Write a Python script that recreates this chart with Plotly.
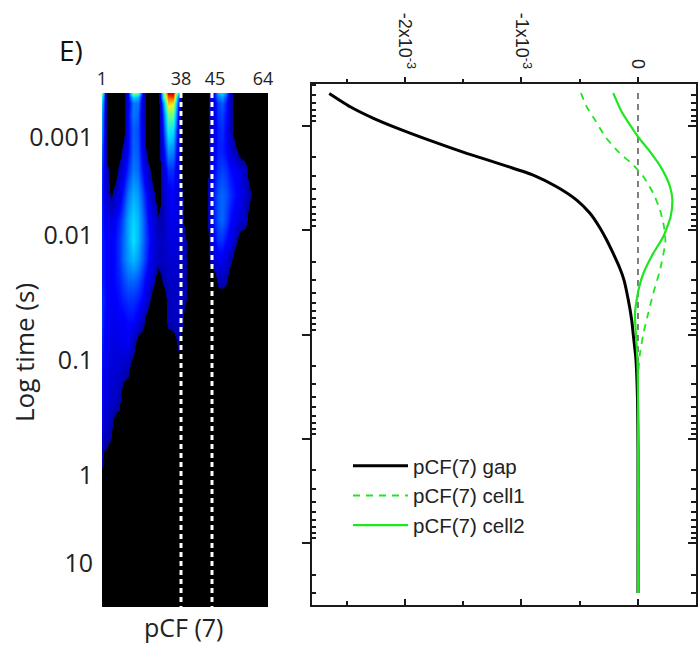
import math
import plotly.graph_objects as go

# ---------- left panel: intensity map ----------
pcf_col_pos = [0,2,5,9,13,17,21,26,31,36,41,46,51,56,61,66,71,76,80,84,88,104,108,112,116,120,124,128,133,138,143,148,153,166]
time_row_pos = [0,4,10,22,37,57,77,102,127,147,167,187,207,227,252,277,307,337,377,514]
Z0 = [0]*13
pcf_map = [
 [65,40,0,0,0,0,0,25,70,65,20,0,0, 0,60,98,98,55,0,0,0, 0,15,25,45,50,40,15,0,0,0,0,0,0],
 [55,35,0,0,0,0,0,25,50,45,18,0,0, 0,55,90,92,40,0,0,0, 0,15,25,38,42,32,15,0,0,0,0,0,0],
 [48,30,0,0,0,0,0,22,38,38,15,0,0, 0,40,80,78,30,0,0,0, 0,15,22,32,35,28,14,0,0,0,0,0,0],
 [42,28,0,0,0,0,0,25,38,35,15,0,0, 0,32,65,65,25,0,0,0, 0,15,22,30,32,26,14,0,0,0,0,0,0],
 [40,26,0,0,0,0,0,25,35,33,18,0,0, 0,28,55,52,22,0,0,0, 0,14,22,28,30,25,14,0,0,0,0,0,0],
 [34,24,0,0,0,0,12,25,36,34,20,0,0, 0,22,42,40,20,0,0,0, 0,15,22,28,28,25,18,12,0,0,0,0,0],
 [30,22,12,0,0,12,20,30,38,36,25,14,0, 0,18,30,30,18,0,0,0, 0,15,25,30,32,30,26,24,20,14,0,0,0],
 [28,22,15,6,14,20,28,38,45,42,32,22,12, 0,14,22,24,16,10,0,0, 0,18,28,34,36,34,30,26,22,16,10,0,0],
 [28,24,22,20,24,28,34,44,50,46,36,26,20, 10,12,20,22,18,14,0,0, 0,18,28,34,36,32,26,22,18,14,0,0,0],
 [28,26,24,24,26,30,36,44,52,46,36,28,20, 14,14,18,20,18,14,8,0, 0,14,24,30,30,26,22,14,0,0,0,0,0],
 [28,26,24,24,26,30,36,42,46,42,34,26,18, 14,14,16,18,16,14,10,0, 0,10,18,22,22,18,12,0,0,0,0,0,0],
 [28,26,24,24,26,28,32,36,36,34,28,22,14, 0,10,14,15,14,12,8,0, 0,0,0,12,14,10,0,0,0,0,0,0,0],
 [30,28,24,24,24,26,28,30,30,28,24,14,0, 0,0,12,14,14,12,8,0]+Z0,
 [30,26,24,22,22,24,24,26,26,22,12,0,0, 0,0,12,14,14,12,0,0]+Z0,
 [28,24,22,20,20,20,22,22,14,0,0,0,0, 0,0,0,0,10,0,0,0]+Z0,
 [26,22,20,18,18,16,14,10,0,0,0,0,0, 0,0,0,0,0,0,0,0]+Z0,
 [24,20,18,16,14,12,0,0,0,0,0,0,0, 0,0,0,0,0,0,0,0]+Z0,
 [20,16,14,10,0,0,0,0,0,0,0,0,0, 0,0,0,0,0,0,0,0]+Z0,
 [7,0,0,0,0,0,0,0,0,0,0,0,0, 0,0,0,0,0,0,0,0]+Z0,
 [0]*34,
]
map_xtick_pos = [0,79,113,161]
map_xtick_text = ["1","38","45","64"]
map_ytick_pos = [44,142,267,382,470]
map_ytick_text = ["0.001","0.01","0.1","1","10"]
dashed_cols = [79,110]

# ---------- right panel: curves (log10 seconds, value in 1e-3) ----------
gap_logt = [-3.313,-3.185,-3.074,-2.968,-2.850,-2.738,-2.616,-2.530,-2.418,-2.290,-2.163,-2.022,-1.907,-1.800,-1.648,-1.523,-1.332,-1.140,-0.996,-0.756,-0.373,0.106,0.586,1.478]
gap_val = [-2.65,-2.47,-2.27,-2.04,-1.757,-1.47,-1.127,-0.899,-0.698,-0.526,-0.412,-0.326,-0.269,-0.222,-0.16,-0.12,-0.083,-0.054,-0.04,-0.017,-0.004,0,0,0]
cell2_logt = [-3.316,-3.137,-2.962,-2.897,-2.754,-2.594,-2.418,-2.290,-2.130,-1.939,-1.779,-1.588,-1.459,-1.332,-1.204,-1.044,-0.788,-0.373,1.478]
cell2_val = [-0.212,-0.14,-0.04,0,0.103,0.203,0.275,0.295,0.28,0.217,0.131,0.047,0.011,-0.011,-0.026,-0.02,-0.006,0,0]
cell1_logt = [-3.316,-3.185,-3.058,-2.897,-2.754,-2.626,-2.514,-2.355,-2.195,-2.035,-1.891,-1.619,-1.396,-1.204,-1.012,-0.820,-0.632,-0.344,1.478]
cell1_val = [-0.49,-0.44,-0.369,-0.28,-0.17,-0.04,0.047,0.131,0.189,0.223,0.235,0.189,0.131,0.088,0.047,0.017,0.003,0,0]

to_t = lambda a: [10**v for v in a]
to_v = lambda a: [v*1e-3 for v in a]

W, H = 700, 645
px = lambda a: a/W
py = lambda b: 1-b/H
dx = lambda a, b: [px(a), px(b)]
dy = lambda top, bot: [py(bot), py(top)]

jet = [[0,"#000000"],[0.079,"#000000"],[0.08,"#0000a0"],[0.25,"#0000ff"],[0.38,"#0078ff"],[0.52,"#00e6ff"],
       [0.64,"#60ff90"],[0.76,"#f0f020"],[0.87,"#ff8000"],[0.95,"#f01000"],[1,"#b00000"]]

# the first column and row are repeated just outside the axis range so the smoothed image fills it
hm_x = [-12] + pcf_col_pos
hm_y = [-12] + time_row_pos
hm_z = [[row[0]] + row for row in [pcf_map[0]] + pcf_map]

fig = go.Figure()
fig.add_trace(go.Heatmap(x=hm_x, y=hm_y, z=hm_z, zmin=0, zmax=100, zsmooth="best",
                         colorscale=jet, showscale=False, xaxis="x", yaxis="y", hoverinfo="skip"))
for c in dashed_cols:
    fig.add_trace(go.Scatter(x=[c,c], y=[0,514], mode="lines", xaxis="x", yaxis="y", showlegend=False,
                             line=dict(color="white", width=3, dash="5px,4px"), hoverinfo="skip"))

GREEN = "#1fe61f"
fig.add_trace(go.Scatter(x=[0,0], y=[10**-3.316,10**1.478], mode="lines", xaxis="x2", yaxis="y2", showlegend=False,
                         line=dict(color="#555555", width=1.5, dash="6px,5px"), hoverinfo="skip"))
fig.add_trace(go.Scatter(x=to_v(gap_val), y=to_t(gap_logt), mode="lines", name="pCF(7) gap", xaxis="x3", yaxis="y3",
                         legendrank=1, line=dict(color="#000000", width=3, shape="spline", smoothing=0.6)))
fig.add_trace(go.Scatter(x=to_v(cell2_val), y=to_t(cell2_logt), mode="lines", name="pCF(7) cell2", xaxis="x3", yaxis="y3",
                         legendrank=3, line=dict(color=GREEN, width=2.2, shape="spline", smoothing=0.6)))
fig.add_trace(go.Scatter(x=to_v(cell1_val), y=to_t(cell1_logt), mode="lines", name="pCF(7) cell1", xaxis="x3", yaxis="y3",
                         legendrank=2, line=dict(color=GREEN, width=1.8, dash="7px,6px", shape="spline", smoothing=0.6)))

xr = [-2.798e-3, 0.498e-3]
yr = [1.593, -3.403]
x_major = [-2e-3,-1e-3,0]
x_text = ["-2x10<sup>-3</sup>","-1x10<sup>-3</sup>","0"]
x_minor = [-2.5e-3,-1.5e-3,-0.5e-3]
y_major = [1e-3,1e-2,1e-1,1,10]
y_minor = [m*10.0**d for d in range(-4,2) for m in range(2,10) if -3.403 < d+math.log10(m) < 1.593]
AX = "#1a1a1a"
sans = "Liberation Sans"
op = "Open Sans"

fig.update_layout(
    width=W, height=H, margin=dict(l=0,r=0,t=0,b=0), paper_bgcolor="white", plot_bgcolor="white",
    font=dict(family=sans, color="#1a1a1a"),
    xaxis=dict(domain=dx(102,268), range=[0,166], side="top", anchor="y", showgrid=False, zeroline=False, automargin=False,
               tickmode="array", tickvals=map_xtick_pos, ticktext=map_xtick_text, ticks="", ticklabelstandoff=3,
               tickfont=dict(family=op, size=18, color="#222")),
    yaxis=dict(domain=dy(93,607), range=[514,0], anchor="x", showgrid=False, zeroline=False, automargin=False,
               tickmode="array", tickvals=map_ytick_pos, ticktext=map_ytick_text, ticks="", ticklabelstandoff=8,
               tickfont=dict(family=op, size=25, color="#222")),
    xaxis2=dict(domain=dx(312,696), range=xr, side="bottom", anchor="y2", showgrid=False, zeroline=False, showline=True, automargin=False,
                linecolor=AX, linewidth=1.5, tickmode="array", tickvals=x_major, ticktext=["","",""], ticks="inside",
                ticklen=6, tickwidth=1.5, tickcolor=AX,
                minor=dict(tickmode="array", tickvals=x_minor, ticks="inside", ticklen=4, tickwidth=1.5, tickcolor=AX)),
    yaxis2=dict(domain=dy(84,605), type="log", range=yr, autorange=False, side="right", anchor="x2", showgrid=False, automargin=False,
                zeroline=False, showline=True, linecolor=AX, linewidth=1.5, tickmode="array", tickvals=y_major,
                ticktext=[""]*5, ticks="inside", ticklen=8, tickwidth=1.5, tickcolor=AX,
                minor=dict(tickmode="array", tickvals=y_minor, ticks="inside", ticklen=5, tickwidth=1.5, tickcolor=AX)),
    xaxis3=dict(domain=dx(312,696), range=xr, side="top", anchor="y3", overlaying="x2", showgrid=False, zeroline=False, automargin=False,
                showline=True, linecolor=AX, linewidth=1.5, tickmode="array", tickvals=x_major, ticktext=x_text,
                tickangle=90, ticks="outside", ticklen=5, tickwidth=1.5, tickcolor=AX, ticklabelstandoff=2,
                tickfont=dict(family=sans, size=18, color="#222"),
                minor=dict(tickmode="array", tickvals=x_minor, ticks="outside", ticklen=3, tickwidth=1.5, tickcolor=AX)),
    yaxis3=dict(domain=dy(84,605), type="log", range=yr, autorange=False, side="left", anchor="x3", overlaying="y2", showgrid=False, automargin=False,
                zeroline=False, showline=True, linecolor=AX, linewidth=1.5, tickmode="array", tickvals=y_major,
                ticktext=[""]*5, ticks="outside", ticklen=8, tickwidth=1.5, tickcolor=AX,
                minor=dict(tickmode="array", tickvals=y_minor, ticks="inside", ticklen=4, tickwidth=1.5, tickcolor=AX)),
    legend=dict(x=px(348), y=py(446), xanchor="left", yanchor="top", bgcolor="rgba(0,0,0,0)", itemwidth=55,
                font=dict(family=sans, size=20.5, color="#222"), tracegroupgap=0, traceorder="normal"),
    annotations=[
        dict(text="E)", x=px(71), y=py(50), xref="paper", yref="paper", showarrow=False, xanchor="center", yanchor="middle",
             font=dict(family=op, size=28, color="#111")),
        dict(text="Log time (s)", x=px(24), y=py(353), xref="paper", yref="paper", showarrow=False, xanchor="center", yanchor="middle", textangle=-90,
             font=dict(family=op, size=26, color="#222")),
        dict(text="pCF (7)", x=px(183), y=py(627), xref="paper", yref="paper", showarrow=False, xanchor="center", yanchor="middle",
             font=dict(family=op, size=25, color="#222")),
    ],
)
fig.write_html("out.html", config={"displayModeBar": False},
               post_script="document.body.style.margin='0';document.body.style.overflow='hidden';")
